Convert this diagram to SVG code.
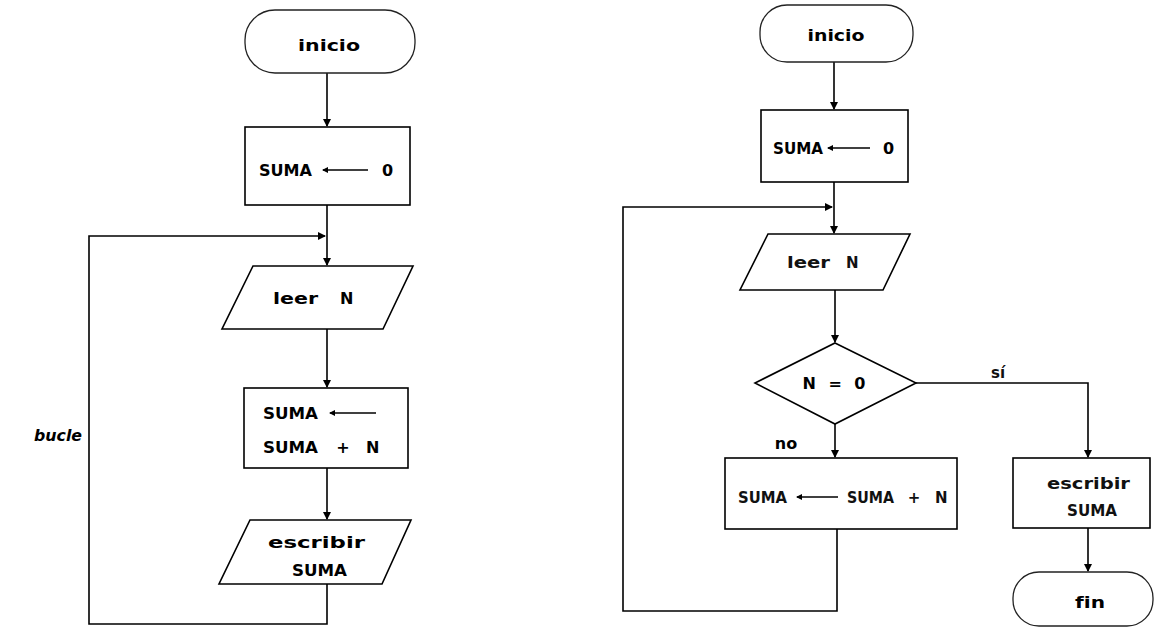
<svg xmlns="http://www.w3.org/2000/svg" width="1157" height="628" viewBox="0 0 1157 628">
<defs>
<marker id="ah" markerWidth="8" markerHeight="8" refX="7" refY="4" orient="auto" markerUnits="userSpaceOnUse">
<path d="M0,0 L8,4 L0,8 Z" fill="#000"/>
</marker>
<marker id="sa" markerWidth="6" markerHeight="6" refX="5" refY="3" orient="auto" markerUnits="userSpaceOnUse">
<path d="M0,0 L6,3 L0,6 Z" fill="#000"/>
</marker>
<style>
.sh{fill:#fff;stroke:#000;stroke-width:1.6}
.term{fill:#fff;stroke:#222;stroke-width:1.3}
.cn{fill:none;stroke:#000;stroke-width:1.6}
.ia{fill:none;stroke:#000;stroke-width:1.6}
text{font-variant-ligatures:none}
.t{font-family:"DejaVu Sans","Liberation Sans",sans-serif;font-size:16px;font-weight:bold;fill:#000}
.tl{font-family:"DejaVu Sans","Liberation Sans",sans-serif;font-size:15px;font-weight:bold;fill:#111}
.bu{font-family:"DejaVu Sans","Liberation Sans",sans-serif;font-size:16px;font-weight:bold;font-style:italic;fill:#000}
</style>
</defs>
<rect width="1157" height="628" fill="#fff"/>

<g id="connectors">
<path class="cn" d="M327,73 V126" marker-end="url(#ah)"/>
<path class="cn" d="M327,205 V265" marker-end="url(#ah)"/>
<path class="cn" d="M327,329 V387" marker-end="url(#ah)"/>
<path class="cn" d="M327,468 V519" marker-end="url(#ah)"/>
<path class="cn" d="M327,584 V624 H89 V236 H325" marker-end="url(#ah)"/>
<path class="cn" d="M834,62 V109" marker-end="url(#ah)"/>
<path class="cn" d="M834,182 V233" marker-end="url(#ah)"/>
<path class="cn" d="M835,290 V342" marker-end="url(#ah)"/>
<path class="cn" d="M835,424 V457" marker-end="url(#ah)"/>
<path class="cn" d="M837,529 V611 H623 V207 H832" marker-end="url(#ah)"/>
<path class="cn" d="M916,383 H1088 V457" marker-end="url(#ah)"/>
<path class="cn" d="M1088,528 V571" marker-end="url(#ah)"/>
</g>

<g id="label-bucle"><text class="bu" x="58" y="441" text-anchor="middle" textLength="48" lengthAdjust="spacingAndGlyphs">bucle</text></g>
<g id="label-si"><text class="tl" x="998" y="378" text-anchor="middle">sí</text></g>
<g id="label-no"><text class="t" x="786" y="449" text-anchor="middle">no</text></g>

<!-- Left diagram -->
<g id="L-inicio">
<rect class="term" x="245" y="10" width="170" height="63" rx="30" ry="30"/>
<text class="t" x="329" y="51" text-anchor="middle" textLength="62" lengthAdjust="spacingAndGlyphs">inicio</text>
</g>
<g id="L-suma0">
<rect class="sh" x="245" y="127" width="165" height="78"/>
<text class="t" x="259" y="176" textLength="53" lengthAdjust="spacingAndGlyphs">SUMA</text>
<line class="ia" x1="368" y1="170" x2="323" y2="170" marker-end="url(#sa)"/>
<text class="t" x="382" y="176">0</text>
</g>
<g id="L-leer">
<polygon class="sh" points="253,266 413,266 383,329 222,329"/>
<text class="t" x="273" y="304" textLength="45" lengthAdjust="spacingAndGlyphs">leer</text>
<text class="t" x="340" y="304">N</text>
</g>
<g id="L-sumaN">
<rect class="sh" x="244" y="388" width="164" height="80"/>
<text class="t" x="263" y="419" textLength="55" lengthAdjust="spacingAndGlyphs">SUMA</text>
<line class="ia" x1="376" y1="413" x2="330" y2="413" marker-end="url(#sa)"/>
<text class="t" x="263" y="453" textLength="55" lengthAdjust="spacingAndGlyphs">SUMA</text>
<text class="t" x="343" y="453" text-anchor="middle">+</text>
<text class="t" x="366" y="453">N</text>
</g>
<g id="L-escribir">
<polygon class="sh" points="250,520 411,520 382,584 219,584"/>
<text class="t" x="268" y="548" textLength="97" lengthAdjust="spacingAndGlyphs">escribir</text>
<text class="t" x="292" y="576" textLength="55" lengthAdjust="spacingAndGlyphs">SUMA</text>
</g>

<!-- Right diagram -->
<g id="R-inicio">
<rect class="term" x="760" y="5" width="153" height="57" rx="27" ry="27"/>
<text class="t" x="836" y="41" text-anchor="middle" textLength="57" lengthAdjust="spacingAndGlyphs">inicio</text>
</g>
<g id="R-suma0">
<rect class="sh" x="761" y="110" width="147" height="72"/>
<text class="t" x="773" y="154" textLength="50" lengthAdjust="spacingAndGlyphs">SUMA</text>
<line class="ia" x1="870" y1="148" x2="828" y2="148" marker-end="url(#sa)"/>
<text class="t" x="883" y="154">0</text>
</g>
<g id="R-leer">
<polygon class="sh" points="768,234 910,234 883,290 740,290"/>
<text class="tl" x="787" y="268" textLength="43" lengthAdjust="spacingAndGlyphs">leer</text>
<text class="tl" x="846" y="268">N</text>
</g>
<g id="R-cond">
<polygon class="sh" points="835,343 916,383 835,424 755,383"/>
<text class="t" x="834" y="389" text-anchor="middle" textLength="63" lengthAdjust="spacing">N = 0</text>
</g>
<g id="R-sumaN">
<rect class="sh" x="725" y="458" width="232" height="71"/>
<text class="tl" x="738" y="503" textLength="49" lengthAdjust="spacingAndGlyphs">SUMA</text>
<line class="ia" x1="838" y1="497" x2="797" y2="497" stroke-width="1.2" marker-end="url(#sa)"/>
<text class="tl" x="847" y="503" textLength="47" lengthAdjust="spacingAndGlyphs">SUMA</text>
<text class="tl" x="914" y="503" text-anchor="middle">+</text>
<text class="tl" x="935" y="503">N</text>
</g>
<g id="R-escribir">
<rect class="sh" x="1013" y="458" width="137" height="70"/>
<text class="tl" x="1047" y="489" textLength="83" lengthAdjust="spacingAndGlyphs">escribir</text>
<text class="tl" x="1067" y="516" textLength="50" lengthAdjust="spacingAndGlyphs">SUMA</text>
</g>
<g id="R-fin">
<rect class="term" x="1013" y="572" width="140" height="54" rx="26" ry="26"/>
<text class="t" x="1090" y="608" text-anchor="middle" textLength="30" lengthAdjust="spacingAndGlyphs">fin</text>
</g>
</svg>
